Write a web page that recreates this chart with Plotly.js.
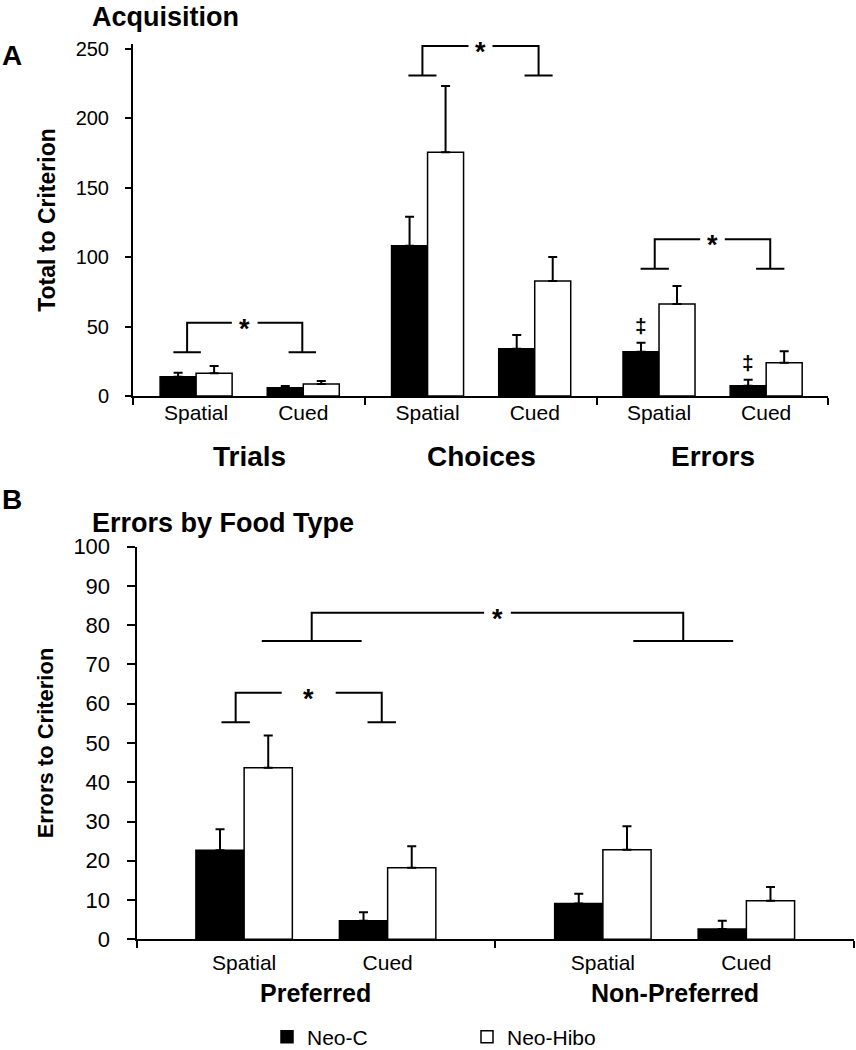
<!DOCTYPE html>
<html><head><meta charset="utf-8">
<script src="https://cdn.plot.ly/plotly-3.0.1.min.js"></script>
<style>html,body{margin:0;padding:0;background:#fff}</style>
</head><body><div id="chart" style="width:856px;height:1050px"></div>
<script>
// ---------- DATA ----------
const seriesNames = ['Neo-C', 'Neo-Hibo'];
const conditions = ['Spatial', 'Cued'];

// Panel A: Acquisition (Total to Criterion)
const groupsA = ['Trials', 'Choices', 'Errors'];
const neoC_A      = [13.9, 6.0, 108.3, 34.1, 31.9, 7.4];
const neoC_A_err  = [2.9, 1.2, 20.9, 9.9, 6.5, 4.3];
const hibo_A      = [16.3, 8.6, 175.6, 82.9, 66.3, 24.0];
const hibo_A_err  = [5.3, 2.2, 47.7, 17.2, 13.0, 8.2];
const yTicksA = [0, 50, 100, 150, 200, 250];

// Panel B: Errors by Food Type (Errors to Criterion)
const groupsB = ['Preferred', 'Non-Preferred'];
const neoC_B      = [22.7, 4.7, 9.1, 2.6];
const neoC_B_err  = [5.3, 2.2, 2.5, 2.1];
const hibo_B      = [43.7, 18.2, 22.8, 9.8];
const hibo_B_err  = [8.2, 5.5, 6.0, 3.5];
const yTicksB = [0, 10, 20, 30, 40, 50, 60, 70, 80, 90, 100];

// ---------- LAYOUT CONFIG ----------
const FONT = 'Liberation Sans, Arial, Helvetica, sans-serif';
const strideA = 2.16, strideB = 2.5;
const posA = [], posB = [], tickTextA = [], tickTextB = [];
groupsA.forEach((g, gi) => conditions.forEach((c, ci) => { posA.push(1 + gi * strideA + ci); tickTextA.push(c); }));
groupsB.forEach((g, gi) => conditions.forEach((c, ci) => { posB.push(1 + gi * strideB + ci); tickTextB.push(c); }));
const rangeXA = [posA[0] - 0.589, posA[posA.length - 1] + 0.577];
const rangeXB = [posB[0] - 0.75, posB[posB.length - 1] + 0.75];
const boundsA = [rangeXA[0], (posA[1] + posA[2]) / 2, (posA[3] + posA[4]) / 2, rangeXA[1]];
const boundsB = [rangeXB[0], (posB[1] + posB[2]) / 2, rangeXB[1]];
const bargap = 0.328;
const halfBar = (1 - bargap) / 4;

// significance brackets: {x1, x2, top, bottom, foot half-width, gap half-width around star}
const bracketsA = [
  {x1: 0.916, x2: 1.991, top: 52.8, bot: 31.5, foot: 0.128, gap: 0.12},
  {x1: 3.112, x2: 4.196, top: 252.2, bot: 230.8, foot: 0.131, gap: 0.112},
  {x1: 5.28, x2: 6.358, top: 112.9, bot: 91.7, foot: 0.132, gap: 0.115}
];
const bracketsB = [
  {x1: 0.941, x2: 1.959, top: 62.8, bot: 55.3, foot: 0.099, gap: 0.188},
  {x1: 1.471, x2: 4.06, top: 83.2, bot: 76.0, foot: 0.348, gap: 0.093}
];
// ‡ marks above Neo-C error bars (Errors, Spatial & Cued)
const daggerIdxA = [4, 5];

function barTrace(name, x, y, err, fill, xa, ya, showlegend) {
  return {
    type: 'bar', name: name, x: x, y: y, xaxis: xa, yaxis: ya,
    marker: {color: fill, line: {color: '#000', width: 1.5}},
    error_y: {type: 'data', array: err, arrayminus: err.map(() => 0), symmetric: false,
              color: '#000', thickness: 2, width: 4.5},
    showlegend: showlegend, legendgroup: name, hoverinfo: 'skip'
  };
}

const data = [
  barTrace(seriesNames[0], posA, neoC_A, neoC_A_err, '#000000', 'x', 'y', true),
  barTrace(seriesNames[1], posA, hibo_A, hibo_A_err, '#ffffff', 'x', 'y', true),
  barTrace(seriesNames[0], posB, neoC_B, neoC_B_err, '#000000', 'x2', 'y2', false),
  barTrace(seriesNames[1], posB, hibo_B, hibo_B_err, '#ffffff', 'x2', 'y2', false)
];

const shapes = [];
const annotations = [];
function addBracket(b, xr, yr) {
  const mid = (b.x1 + b.x2) / 2;
  const p = `M${b.x1 - b.foot},${b.bot} H${b.x1 + b.foot} M${b.x1},${b.bot} V${b.top} H${mid - b.gap} ` +
            `M${mid + b.gap},${b.top} H${b.x2} V${b.bot} M${b.x2 - b.foot},${b.bot} H${b.x2 + b.foot}`;
  shapes.push({type: 'path', xref: xr, yref: yr, path: p, line: {color: '#000', width: 2}});
  annotations.push({xref: xr, yref: yr, x: mid, y: b.top, text: '*', showarrow: false,
    font: {family: FONT, size: 27, color: '#000', weight: 'bold'}, xanchor: 'center', yanchor: 'middle', yshift: -6});
}
bracketsA.forEach(b => addBracket(b, 'x', 'y'));
bracketsB.forEach(b => addBracket(b, 'x2', 'y2'));

daggerIdxA.forEach(i => {
  annotations.push({xref: 'x', yref: 'y', x: posA[i] - halfBar, y: neoC_A[i] + neoC_A_err[i], text: '‡',
    showarrow: false, font: {family: FONT, size: 21, color: '#000', weight: 'bold'},
    xanchor: 'center', yanchor: 'bottom', yshift: 4});
});

function label(text, xref, x, y, size, extra) {
  annotations.push(Object.assign({xref: xref, yref: 'paper', x: x, y: y, text: text, showarrow: false,
    font: {family: FONT, size: size, color: '#000', weight: 'bold'}, xanchor: 'center', yanchor: 'middle'}, extra || {}));
}
groupsA.forEach((g, gi) => label(g, 'x', (posA[2 * gi] + posA[2 * gi + 1]) / 2, 1 - 456 / 1050, 28));
groupsB.forEach((g, gi) => label(g, 'x2', (posB[2 * gi] + posB[2 * gi + 1]) / 2, 1 - 993 / 1050, 25));
label('Acquisition', 'paper', 90 / 856, 1, 27, {xanchor: 'left', yanchor: 'top'});
label('Errors by Food Type', 'paper', 90 / 856, 1 - 523 / 1050, 27, {xanchor: 'left'});
label('A', 'paper', 0, 1 - 55 / 1050, 28, {xanchor: 'left'});
label('B', 'paper', 0, 1 - 499 / 1050, 28, {xanchor: 'left'});

const axisCommon = {showgrid: false, zeroline: false, showline: true, linecolor: '#000', linewidth: 2,
  tickcolor: '#000', fixedrange: true};

const layout = {
  width: 856, height: 1050,
  margin: {l: 0, r: 0, t: 0, b: 0, autoexpand: false},
  paper_bgcolor: '#fff', plot_bgcolor: '#fff',
  font: {family: FONT, color: '#000'},
  barmode: 'group', bargap: bargap, bargroupgap: 0,
  showlegend: true,
  legend: {orientation: 'h', x: 267 / 856, xanchor: 'left', y: 1 - 1037 / 1050, yanchor: 'middle',
    font: {family: FONT, size: 21, color: '#000'}, entrywidth: 155, entrywidthmode: 'pixels',
    bgcolor: 'rgba(0,0,0,0)', traceorder: 'normal'},
  xaxis: Object.assign({}, axisCommon, {
    domain: [133 / 856, 828 / 856], range: rangeXA, anchor: 'y',
    tickmode: 'array', tickvals: posA, ticktext: tickTextA, ticks: '',
    tickfont: {family: FONT, size: 21, color: '#000'}, ticklabelstandoff: -3,
    minor: {tickmode: 'array', tickvals: boundsA, ticks: 'outside', ticklen: 7, tickwidth: 2, tickcolor: '#000', showgrid: false}
  }),
  yaxis: Object.assign({}, axisCommon, {
    domain: [1 - 396 / 1050, 1 - 44.1 / 1050], range: [0, 253.5], anchor: 'x',
    tickmode: 'array', tickvals: yTicksA, ticks: 'outside', ticklen: 6, tickwidth: 2,
    tickfont: {family: FONT, size: 20, color: '#000'}, ticklabelstandoff: 12,
    title: {text: 'Total to Criterion', font: {family: FONT, size: 23, color: '#000', weight: 'bold'}, standoff: 14}
  }),
  xaxis2: Object.assign({}, axisCommon, {
    domain: [136.5 / 856, 854 / 856], range: rangeXB, anchor: 'y2',
    tickmode: 'array', tickvals: posB, ticktext: tickTextB, ticks: '',
    tickfont: {family: FONT, size: 21, color: '#000'}, ticklabelstandoff: 3,
    minor: {tickmode: 'array', tickvals: boundsB, ticks: 'outside', ticklen: 7, tickwidth: 2, tickcolor: '#000', showgrid: false}
  }),
  yaxis2: Object.assign({}, axisCommon, {
    domain: [1 - 939.3 / 1050, 1 - 546.7 / 1050], range: [0, 100], anchor: 'x2',
    tickmode: 'array', tickvals: yTicksB, ticks: 'outside', ticklen: 8, tickwidth: 2,
    tickfont: {family: FONT, size: 22, color: '#000'}, ticklabelstandoff: 12,
    title: {text: 'Errors to Criterion', font: {family: FONT, size: 22, color: '#000', weight: 'bold'}, standoff: 14}
  }),
  shapes: shapes,
  annotations: annotations
};

Plotly.newPlot('chart', data, layout, {staticPlot: true, displayModeBar: false});
</script>
</body></html>
